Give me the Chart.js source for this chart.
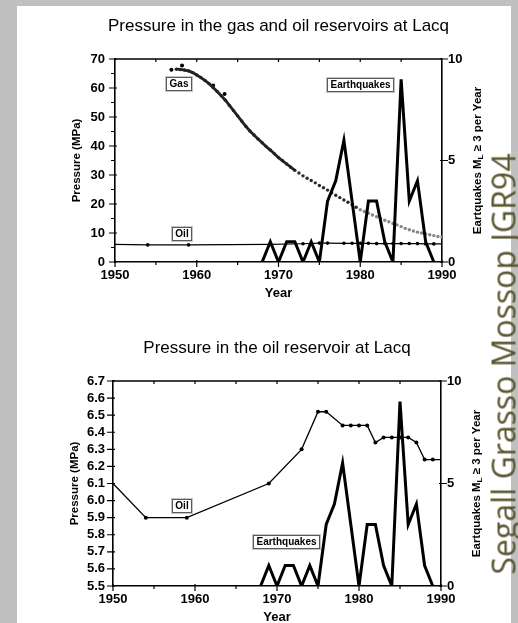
<!DOCTYPE html>
<html>
<head>
<meta charset="utf-8">
<script src="https://cdn.jsdelivr.net/npm/chart.js@4.4.0/dist/chart.umd.min.js"></script>
<style>
    html, body { margin: 0; padding: 0; }
    body { width: 518px; height: 623px; background: #c0c0c0; position: relative; overflow: hidden; }
    .folha { position: absolute; left: 17px; top: 6px; width: 494px; height: 617px; background: #fff; }
    canvas { position: absolute; }
    #graficoGas { left: 17px; top: 6px; }
    #graficoOleo { left: 17px; top: 300px; }
    .autoria {
        position: absolute; left: 503px; top: 364px;
        transform: translate(-50%, -50%) rotate(-90deg);
        white-space: nowrap; font-family: 'Open Sans', sans-serif; font-size: 32px; color: #5a5630;
    }
</style>
</head>
<body>
<div class="folha"></div>
<canvas id="graficoGas" width="494" height="294"></canvas>
<canvas id="graficoOleo" width="494" height="323"></canvas>
<div class="autoria">Segall Grasso Mossop JGR94</div>

<script>
// Pressão no reservatório de gás (MPa)
const anosGas = [
    1957.5, 1958, 1958.5, 1959, 1959.5, 1960, 1960.5, 1961, 1961.5, 1962,
    1962.5, 1963, 1963.5, 1964, 1964.5, 1965, 1965.5, 1966, 1966.5, 1967,
    1967.5, 1968, 1968.5, 1969, 1969.5, 1970, 1970.5, 1971, 1971.5, 1972,
    1972.5, 1973, 1973.5, 1974, 1974.5, 1975, 1975.5, 1976, 1976.5, 1977,
    1977.5, 1978, 1978.5, 1979, 1979.5, 1980, 1980.5, 1981, 1981.5, 1982,
    1982.5, 1983, 1983.5, 1984, 1984.5, 1985, 1985.5, 1986, 1986.5, 1987,
    1987.5, 1988, 1988.5, 1989, 1989.5, 1990
];
const pressaoGas = [
    66.5, 66.4, 66.2, 65.9, 65.3, 64.5, 63.6, 62.6, 61.5, 60.2,
    58.8, 57.3, 55.8, 54.0, 52.2, 50.4, 48.6, 46.8, 45.2, 43.8,
    42.4, 41.1, 39.8, 38.6, 37.3, 36.0, 34.9, 33.8, 32.7, 31.6,
    30.7, 29.7, 28.9, 28.1, 27.3, 26.4, 25.6, 24.8, 23.9, 23.0,
    22.2, 21.4, 20.6, 19.7, 18.9, 18.0, 17.4, 16.8, 16.2, 15.6,
    15.0, 14.4, 13.9, 13.3, 12.8, 12.2, 11.6, 11.1, 10.7, 10.3,
    10.0, 9.7, 9.4, 9.1, 8.8, 8.6
];
// pontos isolados no início da produção
const anosGasDispersos = [1956.9, 1958.2, 1962.0, 1963.4];
const pressaoGasDispersos = [66.3, 67.8, 60.9, 57.9];

// Pressão no reservatório de óleo (MPa)
const anosOleo = [1950, 1954, 1959, 1969, 1973, 1975, 1976, 1978, 1979, 1980, 1981, 1982, 1983, 1984, 1985, 1986, 1987, 1988, 1989, 1990];
const pressaoOleo = [6.1, 5.9, 5.9, 6.1, 6.3, 6.52, 6.52, 6.44, 6.44, 6.44, 6.44, 6.34, 6.37, 6.37, 6.37, 6.37, 6.34, 6.24, 6.24, 6.24];

// Sismos ML >= 3 por ano
const anosSismos = [1968, 1969, 1970, 1971, 1972, 1973, 1974, 1975, 1976, 1977, 1978, 1979, 1980, 1981, 1982, 1983, 1984, 1985, 1986, 1987, 1988, 1989];
const sismos = [0, 1, 0, 1, 1, 0, 1, 0, 3, 4, 6, 3, 0, 3, 3, 1, 0, 9, 3, 4, 1, 0];

// Rótulos e marcas dos eixos
const ticksAnos = [1950, 1960, 1970, 1980, 1990];
const marcasAnos = [1950, 1955, 1960, 1965, 1970, 1975, 1980, 1985, 1990];
const ticksPressaoGas = [0, 10, 20, 30, 40, 50, 60, 70];
const marcasPressaoGas = [0, 5, 10, 15, 20, 25, 30, 35, 40, 45, 50, 55, 60, 65, 70];
const ticksPressaoOleo = [5.5, 5.6, 5.7, 5.8, 5.9, 6.0, 6.1, 6.2, 6.3, 6.4, 6.5, 6.6, 6.7];
const ticksSismos = [0, 5, 10];

const FONTE = '"Liberation Sans", Arial, Helvetica, sans-serif';

function pontos(xs, ys) {
    return xs.map((x, i) => ({ x: x, y: ys[i] }));
}

// Escreve texto girado 90° (lido de baixo para cima), em partes para o subscrito
function textoVertical(ctx, partes, x, y) {
    ctx.save();
    ctx.translate(x, y);
    ctx.rotate(-Math.PI / 2);
    let total = 0;
    partes.forEach(p => { ctx.font = p.fonte; total += ctx.measureText(p.texto).width; });
    let pos = -total / 2;
    ctx.textAlign = 'left';
    ctx.textBaseline = 'middle';
    partes.forEach(p => {
        ctx.font = p.fonte;
        ctx.fillText(p.texto, pos, p.desloc || 0);
        pos += ctx.measureText(p.texto).width;
    });
    ctx.restore();
}

// Moldura, marcas, títulos e caixinhas de legenda
const molduraLacq = {
    id: 'molduraLacq',
    afterDraw(chart, args, opts) {
        const { ctx, chartArea: a, scales } = chart;
        const { x, y, y2 } = scales;
        ctx.save();
        ctx.strokeStyle = '#000';
        ctx.fillStyle = '#000';

        ctx.lineWidth = 1.6;
        ctx.beginPath();
        ctx.moveTo(a.left, a.top);
        ctx.lineTo(a.right, a.top);
        ctx.stroke();

        ctx.lineWidth = 1.2;
        ctx.beginPath();
        marcasAnos.forEach(v => {
            const px = x.getPixelForValue(v);
            const maior = v % 10 === 0;
            ctx.moveTo(px, a.bottom - (maior ? 2 : 0));
            ctx.lineTo(px, a.bottom + (maior ? 5 : 3));
            if (v > 1950 && v < 1990) {
                ctx.moveTo(px, a.top);
                ctx.lineTo(px, a.top + 3);
            }
        });
        opts.marcasY.forEach(v => {
            const py = y.getPixelForValue(v);
            const maior = opts.maioresY.includes(v);
            ctx.moveTo(a.left - (maior ? 6 : 4), py);
            ctx.lineTo(a.left + (maior ? 2 : 0), py);
        });
        ticksSismos.forEach(v => {
            const py = y2.getPixelForValue(v);
            ctx.moveTo(a.right - 2, py);
            ctx.lineTo(a.right + 6, py);
        });
        ctx.stroke();

        const meioX = (a.left + a.right) / 2;
        const meioY = (a.top + a.bottom) / 2;

        ctx.textAlign = 'center';
        ctx.textBaseline = 'alphabetic';
        ctx.font = '17px ' + FONTE;
        ctx.fillText(opts.titulo, meioX, a.top - 28);

        ctx.font = 'bold 13px ' + FONTE;
        ctx.textBaseline = 'middle';
        ctx.fillText('Year', meioX, a.bottom + 31);

        textoVertical(ctx, [{ texto: 'Pressure (MPa)', fonte: 'bold 11.5px ' + FONTE }], a.left - 38, meioY);
        textoVertical(ctx, [
            { texto: 'Eartquakes M', fonte: 'bold 11.5px ' + FONTE },
            { texto: 'L', fonte: 'bold 8px ' + FONTE, desloc: 3 },
            { texto: ' \u2265 3 per Year', fonte: 'bold 11.5px ' + FONTE }
        ], a.right + 36, meioY);

        opts.caixas.forEach(c => {
            const cx = x.getPixelForValue(c.ano);
            const cy = scales[c.eixo].getPixelForValue(c.valor);
            ctx.font = 'bold 10px ' + FONTE;
            const w = Math.round(ctx.measureText(c.texto).width + 7);
            const h = 14;
            const l = Math.round(cx - w / 2);
            const t = Math.round(cy - h / 2);
            ctx.fillStyle = '#fff';
            ctx.fillRect(l, t, w, h);
            ctx.lineWidth = 1;
            ctx.strokeStyle = '#c4c4c4';
            ctx.strokeRect(l - 0.5, t - 0.5, w + 1, h + 1);
            ctx.strokeStyle = '#5a5a5a';
            ctx.strokeRect(l + 0.5, t + 0.5, w - 1, h - 1);
            ctx.fillStyle = '#000';
            ctx.textAlign = 'center';
            ctx.textBaseline = 'middle';
            ctx.fillText(c.texto, l + w / 2, t + h / 2 + 0.5);
        });
        ctx.restore();
    }
};

function eixoX(altura) {
    return {
        type: 'linear',
        min: 1950,
        max: 1990,
        afterBuildTicks: s => { s.ticks = ticksAnos.map(v => ({ value: v })); },
        afterFit: s => { s.height = altura; },
        grid: { display: false, drawTicks: false },
        border: { display: true, color: '#000', width: 1.6 },
        ticks: {
            autoSkip: false, maxRotation: 0, color: '#000', padding: 6,
            font: { family: FONTE, size: 13, weight: 'bold' },
            callback: v => String(v)
        }
    };
}

function eixoSismos(largura) {
    return {
        type: 'linear',
        position: 'right',
        min: 0,
        max: 10,
        afterBuildTicks: s => { s.ticks = ticksSismos.map(v => ({ value: v })); },
        afterFit: s => { s.width = largura; },
        grid: { display: false, drawTicks: false },
        border: { display: true, color: '#000', width: 1.6 },
        ticks: {
            autoSkip: false, color: '#000', padding: 6,
            font: { family: FONTE, size: 13, weight: 'bold' },
            callback: v => String(v)
        }
    };
}

function corGas(ano) {
    if (ano <= 1972) return '#222';
    if (ano < 1980) return '#2b2b2b';
    return '#858585';
}

const datasetSismos = {
    label: 'Earthquakes',
    data: pontos(anosSismos, sismos),
    yAxisID: 'y2',
    borderColor: '#000',
    borderWidth: 3,
    borderJoinStyle: 'miter',
    pointRadius: 0,
    tension: 0
};

// Gráfico de cima: gás e óleo
new Chart(document.getElementById('graficoGas'), {
    type: 'line',
    data: {
        datasets: [
            datasetSismos,
            {
                label: 'Oil',
                data: pontos(anosOleo, pressaoOleo),
                yAxisID: 'y',
                borderColor: '#000',
                borderWidth: 1.2,
                pointRadius: anosOleo.map((a, i) => (i === 0 || i === anosOleo.length - 1) ? 0 : 1.8),
                pointBackgroundColor: '#000',
                pointBorderWidth: 0,
                tension: 0
            },
            {
                label: 'Gas',
                data: pontos(anosGas, pressaoGas),
                yAxisID: 'y',
                showLine: true,
                borderWidth: 2.8,
                segment: {
                    borderColor: ctx => ctx.p1.parsed.x <= 1972 ? '#222' : 'rgba(0,0,0,0)'
                },
                pointRadius: 1.7,
                pointBorderWidth: 0,
                pointBackgroundColor: ctx => corGas(ctx.raw ? ctx.raw.x : 1960),
                tension: 0
            },
            {
                label: 'Gas (dispersos)',
                data: pontos(anosGasDispersos, pressaoGasDispersos),
                yAxisID: 'y',
                showLine: false,
                pointRadius: 2,
                pointBorderWidth: 0,
                pointBackgroundColor: '#000'
            }
        ]
    },
    options: {
        responsive: false,
        animation: false,
        devicePixelRatio: 1,
        layout: { padding: { top: 53, left: 0, right: 0, bottom: 0 } },
        plugins: {
            legend: { display: false },
            tooltip: { enabled: false },
            molduraLacq: {
                titulo: 'Pressure in the gas and oil reservoirs at Lacq',
                marcasY: marcasPressaoGas,
                maioresY: ticksPressaoGas,
                caixas: [
                    { texto: 'Gas', ano: 1957.8, valor: 61.4, eixo: 'y' },
                    { texto: 'Oil', ano: 1958.2, valor: 9.8, eixo: 'y' },
                    { texto: 'Earthquakes', ano: 1980, valor: 8.7, eixo: 'y2' }
                ]
            }
        },
        scales: {
            x: eixoX(38),
            y: {
                type: 'linear',
                min: 0,
                max: 70,
                afterBuildTicks: s => { s.ticks = ticksPressaoGas.map(v => ({ value: v })); },
                afterFit: s => { s.width = 98; },
                grid: { display: false, drawTicks: false },
                border: { display: true, color: '#000', width: 1.6 },
                ticks: {
                    autoSkip: false, color: '#000', padding: 10,
                    font: { family: FONTE, size: 13, weight: 'bold' },
                    callback: v => String(v)
                }
            },
            y2: eixoSismos(69)
        }
    },
    plugins: [molduraLacq]
});

// Gráfico de baixo: só o óleo
new Chart(document.getElementById('graficoOleo'), {
    type: 'line',
    data: {
        datasets: [
            Object.assign({}, datasetSismos, { data: pontos(anosSismos, sismos) }),
            {
                label: 'Oil',
                data: pontos(anosOleo, pressaoOleo),
                yAxisID: 'y',
                borderColor: '#000',
                borderWidth: 1.3,
                pointRadius: anosOleo.map((a, i) => (i === 0 || i === anosOleo.length - 1) ? 0 : 2),
                pointBackgroundColor: '#000',
                pointBorderWidth: 0,
                tension: 0
            }
        ]
    },
    options: {
        responsive: false,
        animation: false,
        devicePixelRatio: 1,
        layout: { padding: { top: 81, left: 0, right: 0, bottom: 0 } },
        plugins: {
            legend: { display: false },
            tooltip: { enabled: false },
            molduraLacq: {
                titulo: 'Pressure in the oil reservoir at Lacq',
                marcasY: ticksPressaoOleo,
                maioresY: ticksPressaoOleo,
                caixas: [
                    { texto: 'Oil', ano: 1958.4, valor: 5.967, eixo: 'y' },
                    { texto: 'Earthquakes', ano: 1971.2, valor: 2.13, eixo: 'y2' }
                ]
            }
        },
        scales: {
            x: eixoX(37),
            y: {
                type: 'linear',
                min: 5.5,
                max: 6.7,
                afterBuildTicks: s => { s.ticks = ticksPressaoOleo.map(v => ({ value: v })); },
                afterFit: s => { s.width = 96; },
                grid: { display: false, drawTicks: false },
                border: { display: true, color: '#000', width: 1.6 },
                ticks: {
                    autoSkip: false, color: '#000', padding: 8,
                    font: { family: FONTE, size: 13, weight: 'bold' },
                    callback: v => v.toFixed(1)
                }
            },
            y2: eixoSismos(70)
        }
    },
    plugins: [molduraLacq]
});
</script>
</body>
</html>
